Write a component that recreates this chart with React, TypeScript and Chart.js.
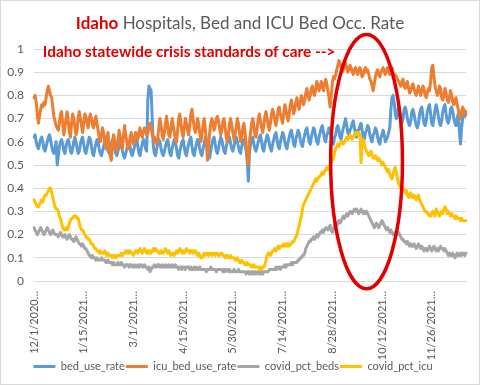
import React, { useEffect, useRef } from "react";
import { Chart, registerables } from "chart.js";

Chart.register(...registerables);

// ---------- data ----------
const startYear = 2020;
const startMonth = 12; // December
const startDay = 1;
const dayCount = 392;
const tickEvery = 45;
const tickLabels = [
  "12/1/2020…",
  "1/15/2021…",
  "3/1/2021…",
  "4/15/2021…",
  "5/30/2021…",
  "7/14/2021…",
  "8/28/2021…",
  "10/12/2021…",
  "11/26/2021…",
];
const seriesNames = ["bed_use_rate", "icu_bed_use_rate", "covid_pct_beds", "covid_pct_icu"];

// values in percent, one per day from 12/1/2020 (7 per row = one week)
const bedUseRate = [
  62, 63, 60, 58, 57, 59, 61,
  62, 60, 57, 56, 58, 60, 62,
  63, 61, 58, 56, 55, 57, 60,
  50, 54, 58, 60, 61, 59, 56,
  55, 58, 60, 61, 59, 56, 55,
  57, 60, 62, 60, 57, 55, 56,
  59, 61, 62, 59, 56, 55, 57,
  60, 62, 61, 58, 55, 54, 57,
  59, 61, 60, 57, 55, 54, 56,
  58, 60, 61, 58, 56, 55, 57,
  59, 61, 60, 57, 55, 54, 56,
  58, 60, 59, 56, 54, 53, 55,
  57, 59, 60, 58, 55, 54, 56,
  58, 60, 61, 58, 55, 54, 57,
  59, 61, 60, 57, 56, 78, 84,
  83, 82, 70, 58, 55, 54, 57,
  59, 61, 60, 57, 55, 54, 56,
  58, 60, 61, 58, 55, 54, 57,
  59, 61, 60, 57, 54, 53, 56,
  58, 60, 61, 58, 55, 54, 57,
  59, 61, 62, 58, 55, 54, 57,
  59, 61, 60, 57, 55, 54, 57,
  59, 62, 61, 58, 55, 53, 56,
  59, 61, 62, 59, 56, 55, 57,
  60, 62, 61, 58, 56, 55, 58,
  60, 62, 62, 59, 57, 56, 58,
  61, 62, 60, 58, 56, 55, 58,
  60, 61, 59, 56, 52, 43, 55,
  59, 61, 62, 59, 57, 56, 58,
  60, 62, 63, 60, 57, 56, 59,
  61, 63, 62, 59, 57, 56, 59,
  61, 63, 64, 61, 58, 57, 60,
  62, 64, 63, 60, 58, 57, 60,
  62, 64, 65, 62, 59, 58, 61,
  63, 65, 64, 61, 59, 58, 61,
  63, 65, 66, 63, 60, 59, 62,
  64, 66, 65, 62, 60, 59, 62,
  64, 66, 67, 64, 61, 60, 63,
  64, 66, 65, 62, 60, 59, 62,
  63, 66, 67, 65, 62, 61, 64,
  66, 68, 70, 67, 64, 63, 65,
  66, 68, 69, 66, 63, 62, 65,
  65, 67, 68, 65, 62, 61, 64,
  65, 67, 66, 63, 61, 60, 63,
  64, 66, 65, 62, 60, 59, 62,
  63, 65, 63, 60, 61, 62, 64,
  66, 74, 79, 80, 77, 72, 70,
  73, 75, 72, 69, 68, 70, 74,
  75, 73, 70, 68, 67, 69, 73,
  74, 72, 69, 67, 66, 68, 72,
  74, 75, 71, 68, 67, 69, 73,
  75, 76, 72, 68, 67, 70, 74,
  76, 74, 71, 68, 67, 69, 73,
  75, 76, 72, 69, 68, 70, 74,
  75, 73, 70, 68, 67, 70, 72,
  65, 59, 66, 70, 72, 71, 72,
];

const icuBedUseRate = [
  79, 80, 77, 72, 68, 71, 74,
  76, 75, 77, 76, 79, 82, 84,
  82, 80, 79, 75, 71, 69, 67,
  66, 65, 68, 72, 73, 68, 63,
  66, 70, 73, 69, 64, 62, 68,
  72, 70, 66, 63, 65, 71, 73,
  70, 67, 64, 68, 72, 71, 68,
  66, 70, 72, 70, 67, 66, 69,
  71, 68, 65, 62, 60, 63, 66,
  64, 60, 57, 62, 64, 58, 54,
  52, 58, 63, 61, 57, 56, 60,
  65, 62, 58, 57, 63, 67, 63,
  60, 57, 58, 62, 64, 60, 59,
  62, 64, 63, 61, 64, 66, 63,
  62, 64, 66, 65, 63, 64, 66,
  68, 66, 63, 61, 62, 60, 59,
  62, 66, 70, 67, 63, 61, 64,
  68, 71, 67, 63, 62, 66, 70,
  67, 64, 61, 60, 65, 70, 72,
  68, 64, 62, 66, 70, 68, 65,
  63, 67, 72, 74, 70, 66, 64,
  66, 70, 68, 64, 60, 63, 67,
  70, 66, 60, 52, 58, 64, 68,
  70, 68, 65, 67, 70, 71, 69,
  66, 63, 65, 69, 70, 66, 62,
  60, 63, 68, 70, 67, 64, 61,
  63, 66, 70, 68, 64, 60, 62,
  66, 68, 64, 58, 53, 50, 60,
  64, 68, 70, 67, 63, 62, 66,
  70, 72, 69, 66, 64, 67, 71,
  73, 70, 67, 65, 68, 72, 74,
  72, 69, 67, 70, 74, 75, 72,
  70, 68, 72, 76, 74, 71, 69,
  72, 76, 78, 75, 72, 74, 77,
  79, 76, 74, 77, 80, 78, 76,
  78, 81, 83, 80, 78, 80, 83,
  84, 81, 80, 83, 86, 84, 82,
  84, 86, 84, 82, 85, 87, 85,
  82, 79, 75, 80, 85, 88, 87,
  89, 91, 93, 95, 94, 92, 90,
  91, 93, 94, 92, 90, 91, 93,
  92, 90, 89, 91, 92, 90, 89,
  91, 92, 90, 88, 89, 91, 92,
  90, 91, 89, 87, 86, 84, 82,
  85, 88, 90, 91, 89, 88, 90,
  91, 92, 90, 89, 91, 92, 90,
  89, 91, 92, 90, 88, 89, 88,
  87, 86, 85, 84, 86, 87, 84,
  83, 85, 86, 83, 81, 82, 84,
  85, 83, 81, 80, 82, 84, 82,
  80, 82, 84, 83, 80, 79, 81,
  83, 82, 86, 92, 93, 88, 84,
  82, 80, 81, 84, 83, 79, 78,
  80, 83, 81, 78, 77, 79, 82,
  80, 77, 76, 78, 79, 76, 74,
  71, 70, 73, 75, 74, 72, 73,
];

const covidPctBeds = [
  23, 22, 21, 20, 21, 22, 23,
  22, 21, 20, 21, 22, 23, 22,
  21, 20, 21, 22, 21, 20, 20,
  20, 19, 20, 21, 20, 19, 19,
  20, 19, 18, 19, 20, 19, 18,
  18, 17, 18, 19, 18, 17, 16,
  16, 15, 16, 15, 14, 14, 13,
  12, 11, 11, 10, 11, 10, 10,
  9, 10, 9, 9, 9, 10, 9,
  9, 9, 8, 8, 9, 8, 8,
  8, 7, 8, 7, 7, 7, 8,
  7, 7, 8, 7, 7, 6, 7,
  7, 7, 6, 7, 7, 6, 6,
  7, 6, 6, 7, 6, 7, 7,
  6, 6, 7, 6, 6, 5, 6,
  4, 5, 6, 6, 7, 6, 6,
  7, 7, 6, 6, 7, 6, 6,
  7, 6, 6, 7, 6, 6, 7,
  6, 6, 7, 6, 6, 5, 6,
  6, 5, 6, 6, 5, 6, 6,
  6, 5, 6, 5, 5, 6, 5,
  6, 5, 5, 6, 5, 5, 5,
  5, 5, 4, 5, 5, 5, 6,
  5, 5, 5, 5, 4, 5, 5,
  5, 5, 5, 4, 5, 4, 5,
  5, 4, 5, 4, 4, 4, 5,
  4, 4, 4, 5, 4, 4, 4,
  4, 4, 4, 3, 4, 4, 3,
  4, 3, 4, 3, 4, 3, 4,
  4, 3, 3, 4, 3, 4, 4,
  4, 4, 4, 5, 5, 5, 5,
  5, 5, 6, 5, 6, 6, 5,
  6, 6, 6, 7, 6, 7, 7,
  7, 7, 8, 7, 8, 8, 8,
  8, 9, 9, 10, 10, 11, 11,
  12, 14, 15, 16, 17, 17, 18,
  18, 19, 18, 19, 20, 19, 20,
  21, 21, 22, 21, 22, 23, 23,
  22, 23, 24, 22, 21, 22, 24,
  25, 24, 25, 26, 25, 26, 27,
  28, 27, 28, 29, 28, 29, 30,
  30, 29, 30, 31, 30, 31, 30,
  29, 30, 31, 30, 29, 30, 29,
  30, 29, 28, 27, 26, 25, 24,
  23, 24, 25, 24, 23, 24, 25,
  26, 25, 24, 23, 22, 23, 22,
  21, 22, 21, 20, 20, 21, 21,
  20, 21, 20, 19, 18, 18, 17,
  17, 16, 17, 16, 15, 16, 15,
  15, 16, 15, 14, 15, 16, 15,
  14, 15, 14, 13, 14, 14, 13,
  14, 15, 14, 13, 14, 15, 14,
  13, 14, 13, 14, 15, 14, 14,
  13, 14, 13, 12, 11, 12, 11,
  11, 12, 11, 10, 11, 12, 11,
  11, 12, 11, 12, 12, 11, 12,
];

const covidPctIcu = [
  35, 34, 33, 32, 32, 33, 34,
  35, 34, 36, 37, 37, 38, 39,
  40, 40, 38, 36, 34, 32, 31,
  31, 30, 28, 27, 25, 23, 22,
  22, 23, 22, 23, 25, 26, 27,
  27, 28, 28, 28, 27, 27, 25,
  23, 22, 22, 21, 20, 19, 19,
  18, 18, 17, 16, 16, 15, 14,
  14, 13, 13, 12, 13, 12, 12,
  12, 13, 12, 11, 12, 11, 11,
  11, 10, 11, 11, 10, 11, 11,
  11, 11, 12, 11, 12, 12, 13,
  12, 13, 12, 13, 12, 12, 11,
  12, 13, 13, 12, 13, 14, 13,
  12, 13, 14, 13, 12, 13, 12,
  13, 12, 13, 14, 13, 14, 13,
  13, 12, 12, 13, 12, 12, 13,
  14, 13, 12, 13, 12, 11, 12,
  12, 11, 12, 13, 12, 13, 14,
  13, 12, 13, 12, 13, 14, 13,
  13, 12, 13, 13, 12, 13, 13,
  12, 11, 12, 11, 10, 10, 11,
  12, 11, 12, 12, 11, 12, 12,
  11, 12, 12, 11, 12, 12, 11,
  11, 12, 12, 11, 11, 10, 11,
  11, 10, 10, 11, 10, 10, 10,
  9, 9, 10, 9, 8, 8, 9,
  8, 8, 7, 7, 8, 7, 7,
  7, 6, 6, 7, 6, 6, 6,
  6, 5, 6, 5, 6, 6, 7,
  9, 11, 12, 12, 11, 12, 13,
  13, 14, 13, 14, 15, 14, 15,
  15, 15, 16, 15, 16, 15, 16,
  15, 16, 16, 17, 17, 18, 19,
  20, 22, 24, 26, 28, 31, 33,
  34, 35, 36, 37, 38, 39, 40,
  41, 42, 43, 44, 43, 44, 45,
  45, 46, 47, 46, 47, 48, 49,
  48, 49, 50, 51, 52, 53, 55,
  57, 58, 59, 58, 59, 60, 60,
  59, 60, 61, 62, 61, 62, 63,
  62, 61, 62, 63, 64, 63, 64,
  64, 63, 51, 60, 61, 59, 57,
  56, 55, 54, 55, 56, 54, 53,
  53, 54, 53, 52, 53, 52, 51,
  50, 51, 50, 49, 48, 47, 48,
  46, 45, 44, 46, 48, 49, 47,
  44, 42, 41, 40, 39, 40, 39,
  38, 39, 37, 36, 37, 38, 36,
  36, 37, 36, 35, 36, 37, 35,
  34, 33, 32, 31, 30, 30, 29,
  29, 28, 28, 29, 30, 29, 28,
  31, 30, 29, 28, 29, 30, 29,
  31, 32, 31, 29, 30, 29, 28,
  29, 28, 28, 27, 28, 27, 27,
  27, 26, 27, 26, 26, 26, 26,
];

// annotation anchors (data coordinates)
const crisisText = "Idaho statewide crisis standards of care -->";
const crisisTextDay = 8;
const crisisTextValue = 0.988;
const crisisCenterDay = 301;
const crisisHalfWidthDays = 32.5;
const crisisCenterValue = 0.515;
const crisisHalfHeightValue = 0.548;

// ---------- helpers ----------
const FONT = "Lato, 'Open Sans', 'DejaVu Sans', sans-serif";

function buildDateLabels(): string[] {
  const out: string[] = [];
  const d = new Date(startYear, startMonth - 1, startDay);
  for (let i = 0; i < dayCount; i++) {
    out.push(`${d.getMonth() + 1}/${d.getDate()}/${d.getFullYear()}`);
    d.setDate(d.getDate() + 1);
  }
  return out;
}

const toRate = (arr: number[]) => arr.map((v) => v / 100);

const decorPlugin = {
  id: "decor",
  beforeDraw(chart: any) {
    const { ctx, width, height } = chart;
    ctx.save();
    ctx.fillStyle = "#ffffff";
    ctx.fillRect(0, 0, width, height);
    ctx.strokeStyle = "#d9d9d9";
    ctx.lineWidth = 1;
    ctx.strokeRect(0.5, 0.5, width - 1, height - 1);
    ctx.restore();
  },
  afterDatasetsDraw(chart: any) {
    const { ctx } = chart;
    const xs = chart.scales.x;
    const ys = chart.scales.y;
    const cx = xs.getPixelForValue(crisisCenterDay);
    const rx = xs.getPixelForValue(crisisCenterDay + crisisHalfWidthDays) - cx;
    const cy = ys.getPixelForValue(crisisCenterValue);
    const ry = cy - ys.getPixelForValue(crisisCenterValue + crisisHalfHeightValue);
    ctx.save();
    ctx.strokeStyle = "#e00000";
    ctx.lineWidth = 3.5;
    ctx.beginPath();
    ctx.ellipse(cx, cy, rx, ry, 0, 0, Math.PI * 2);
    ctx.stroke();
    ctx.restore();
  },
  afterDraw(chart: any) {
    const { ctx, width } = chart;
    const xs = chart.scales.x;
    const ys = chart.scales.y;
    ctx.save();
    // title
    const boldFont = `bold 17px ${FONT}`;
    const normFont = `17px ${FONT}`;
    const part1 = "Idaho";
    const part2 = " Hospitals, Bed and ICU Bed Occ. Rate";
    ctx.font = boldFont;
    const w1 = ctx.measureText(part1).width;
    ctx.font = normFont;
    const w2 = ctx.measureText(part2).width;
    const x0 = width / 2 - (w1 + w2) / 2;
    ctx.textBaseline = "alphabetic";
    ctx.textAlign = "left";
    ctx.font = boldFont;
    ctx.fillStyle = "#e00000";
    ctx.fillText(part1, x0, 29);
    ctx.font = normFont;
    ctx.fillStyle = "#595959";
    ctx.fillText(part2, x0 + w1, 29);
    // annotation
    ctx.font = `bold 15.4px ${FONT}`;
    ctx.fillStyle = "#e00000";
    ctx.textBaseline = "middle";
    ctx.fillText(crisisText, xs.getPixelForValue(crisisTextDay), ys.getPixelForValue(crisisTextValue));
    ctx.restore();
  },
};

export default function App() {
  const ref = useRef<HTMLCanvasElement | null>(null);

  useEffect(() => {
    if (!ref.current) return;
    const labels = buildDateLabels();
    const base = {
      pointRadius: 0,
      pointHoverRadius: 0,
      borderWidth: 3,
      tension: 0,
      fill: false,
      borderJoinStyle: "round" as const,
      borderCapStyle: "round" as const,
    };
    const chart = new Chart(ref.current, {
      type: "line",
      data: {
        labels,
        datasets: [
          { ...base, label: seriesNames[0], data: toRate(bedUseRate), borderColor: "#5b9bd5", backgroundColor: "#5b9bd5", order: 4 },
          { ...base, label: seriesNames[1], data: toRate(icuBedUseRate), borderColor: "#ed7d31", backgroundColor: "#ed7d31", order: 3 },
          { ...base, label: seriesNames[2], data: toRate(covidPctBeds), borderColor: "#a5a5a5", backgroundColor: "#a5a5a5", order: 2 },
          { ...base, label: seriesNames[3], data: toRate(covidPctIcu), borderColor: "#ffc000", backgroundColor: "#ffc000", order: 1 },
        ],
      },
      options: {
        animation: false,
        responsive: false,
        maintainAspectRatio: false,
        events: [],
        layout: { padding: { top: 49, right: 14, bottom: 3, left: 0 } },
        plugins: {
          title: { display: false },
          tooltip: { enabled: false },
          legend: {
            position: "bottom",
            labels: {
              usePointStyle: true,
              pointStyle: "line",
              pointStyleWidth: 22,
              color: "#595959",
              font: { family: FONT, size: 11 },
              padding: 1,
              sort: (a: any, b: any) => a.datasetIndex - b.datasetIndex,
            },
          },
        },
        scales: {
          x: {
            type: "category",
            offset: false,
            grid: { display: false },
            border: { display: true, color: "#d9d9d9", width: 1 },
            ticks: {
              autoSkip: false,
              minRotation: 90,
              maxRotation: 90,
              color: "#595959",
              font: { family: FONT, size: 11 },
              padding: 2,
              callback: (_v: any, i: number) => tickLabels[i] ?? "",
            },
            afterBuildTicks: (scale: any) => {
              scale.ticks = scale.ticks.filter((t: any) => t.value % tickEvery === 0);
            },
            afterFit: (scale: any) => {
              scale.height = 79;
            },
          },
          y: {
            min: 0,
            max: 1,
            grid: { color: "#d9d9d9", drawTicks: false },
            border: { display: false },
            ticks: {
              stepSize: 0.1,
              color: "#595959",
              font: { family: FONT, size: 12 },
              padding: 10,
              callback: (v: any) => String(Math.round(Number(v) * 10) / 10),
            },
            afterFit: (scale: any) => {
              scale.width = 34;
            },
          },
        },
      },
      plugins: [decorPlugin],
    } as any);
    return () => chart.destroy();
  }, []);

  return (
    <div style={{ position: "fixed", left: 0, top: 0, width: 480, height: 385, background: "#fff" }}>
      <canvas ref={ref} width={480} height={385} style={{ width: 480, height: 385, display: "block" }} />
    </div>
  );
}
